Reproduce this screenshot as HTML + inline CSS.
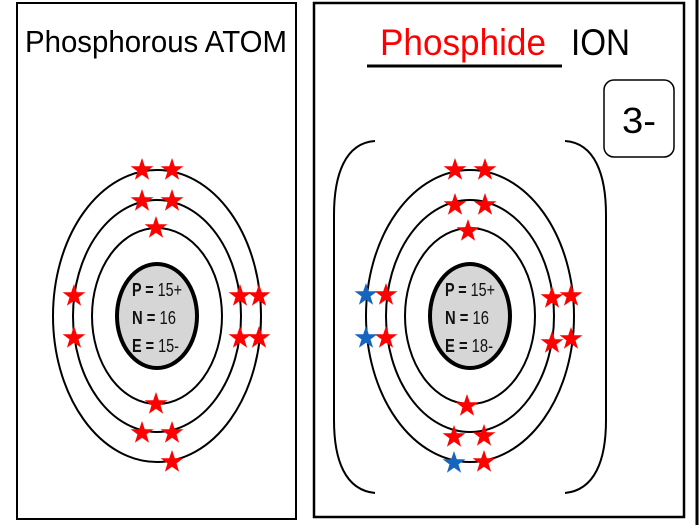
<!DOCTYPE html>
<html><head><meta charset="utf-8"><style>
html,body{margin:0;padding:0;background:#fff;width:700px;height:525px;overflow:hidden}
svg{display:block}
</style></head><body>
<svg width="700" height="525" viewBox="0 0 700 525" xmlns="http://www.w3.org/2000/svg">
<defs>
<polygon id="s" points="0,-12 2.8,-3.8 11.4,-3.7 4.5,1.4 7.1,9.7 0,4.8 -7.1,9.7 -4.5,1.4 -11.4,-3.7 -2.8,-3.8"/>
</defs>
<rect x="0" y="0" width="700" height="525" fill="#fff"/>
<rect x="17" y="3" width="279" height="516" fill="none" stroke="#000" stroke-width="2"/>
<rect x="314" y="3" width="370" height="514" fill="none" stroke="#000" stroke-width="2.5"/>
<line x1="697" y1="0" x2="697" y2="525" stroke="#000" stroke-width="3"/>
<text x="156" y="52" font-family="Liberation Sans, sans-serif" font-size="31" text-anchor="middle" textLength="262" lengthAdjust="spacingAndGlyphs">Phosphorous ATOM</text>
<text x="380" y="55" font-family="Liberation Sans, sans-serif" font-size="37" fill="#f00" textLength="166" lengthAdjust="spacingAndGlyphs">Phosphide</text>
<text x="571" y="55" font-family="Liberation Sans, sans-serif" font-size="37" textLength="59" lengthAdjust="spacingAndGlyphs">ION</text>
<line x1="367" y1="66" x2="562" y2="66" stroke="#000" stroke-width="3"/>
<rect x="604" y="80" width="70" height="77" rx="10" fill="none" stroke="#000" stroke-width="1.5"/>
<text x="639" y="133" font-family="Liberation Sans, sans-serif" font-size="36" text-anchor="middle" textLength="34" lengthAdjust="spacingAndGlyphs">3-</text>
<g fill="none" stroke="#000" stroke-width="2">
<ellipse cx="157" cy="316" rx="104" ry="146"/>
<ellipse cx="157" cy="316" rx="84" ry="116"/>
<ellipse cx="157" cy="316" rx="65" ry="88"/>
<ellipse cx="470" cy="316" rx="104" ry="146"/>
<ellipse cx="470" cy="316" rx="84" ry="116"/>
<ellipse cx="470" cy="316" rx="65" ry="88"/>
<path d="M375,141 C345,143 334,175 334,215 L334,420 C334,460 345,490 375,493"/>
<path d="M565,141 C595,143 606,175 606,215 L606,420 C606,460 595,490 565,493"/>
</g>
<g fill="#d6d6d6" stroke="#000" stroke-width="4">
<ellipse cx="157" cy="316" rx="40" ry="52"/>
<ellipse cx="470" cy="316" rx="40" ry="52"/>
</g>
<g font-family="Liberation Sans, sans-serif" font-size="18" font-weight="bold" fill="#111" lengthAdjust="spacingAndGlyphs">
<text x="132" y="296" textLength="50" lengthAdjust="spacingAndGlyphs">P = <tspan font-weight="normal">15+</tspan></text>
<text x="132" y="324" textLength="44" lengthAdjust="spacingAndGlyphs">N =  <tspan font-weight="normal">16</tspan></text>
<text x="132" y="352" textLength="47" lengthAdjust="spacingAndGlyphs">E = <tspan font-weight="normal">15-</tspan></text>
<text x="445" y="296" textLength="50" lengthAdjust="spacingAndGlyphs">P = <tspan font-weight="normal">15+</tspan></text>
<text x="445" y="324" textLength="44" lengthAdjust="spacingAndGlyphs">N =  <tspan font-weight="normal">16</tspan></text>
<text x="445" y="352" textLength="48" lengthAdjust="spacingAndGlyphs">E = <tspan font-weight="normal">18-</tspan></text>
</g>
<g fill="#f00">
<use href="#s" x="142" y="170"/><use href="#s" x="172" y="170"/>
<use href="#s" x="142" y="201"/><use href="#s" x="172" y="201"/>
<use href="#s" x="156" y="228"/>
<use href="#s" x="74" y="296"/><use href="#s" x="74" y="338"/>
<use href="#s" x="240" y="296"/><use href="#s" x="259" y="296"/>
<use href="#s" x="240" y="338"/><use href="#s" x="259" y="338"/>
<use href="#s" x="156" y="404"/>
<use href="#s" x="142" y="433"/><use href="#s" x="172" y="433"/>
<use href="#s" x="172" y="462"/>

<use href="#s" x="455" y="170"/><use href="#s" x="485" y="170"/>
<use href="#s" x="455" y="205"/><use href="#s" x="485" y="205"/>
<use href="#s" x="468" y="231"/>
<use href="#s" x="386" y="295"/><use href="#s" x="386" y="338"/>
<use href="#s" x="552" y="298"/><use href="#s" x="571" y="296"/>
<use href="#s" x="552" y="343"/><use href="#s" x="571" y="339"/>
<use href="#s" x="467" y="406"/>
<use href="#s" x="454" y="437"/><use href="#s" x="484" y="436"/>
<use href="#s" x="484" y="462"/>
</g>
<g fill="#1565c0">
<use href="#s" x="366" y="295"/><use href="#s" x="366" y="338"/>
<use href="#s" x="454" y="463"/>
</g>
</svg>
</body></html>
